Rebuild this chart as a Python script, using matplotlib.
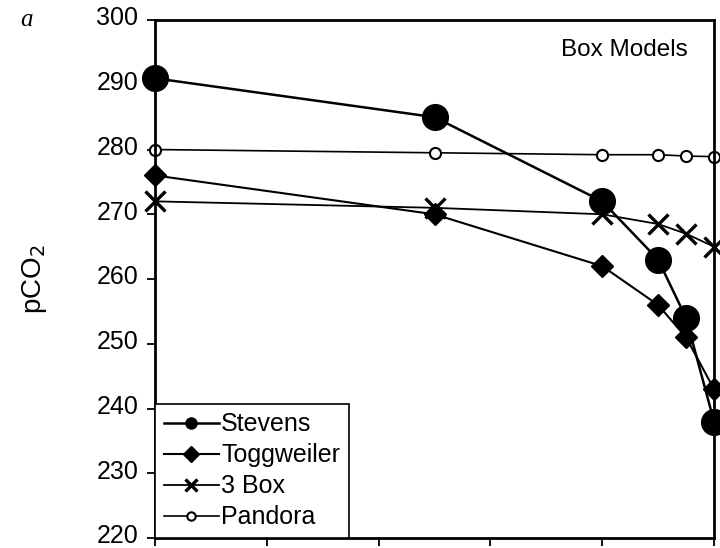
import matplotlib.pyplot as plt
from matplotlib.transforms import ScaledTranslation

plt.rcParams['font.family'] = ['Liberation Sans', 'DejaVu Sans']

# x positions (no labels on the x axis)
x = [0, 2.5, 4, 4.5, 4.75, 5]

stevens = [291, 285, 272, 263, 254, 238]
toggweiler = [276, 270, 262, 256, 251, 243]
three_box = [272, 271, 270, 268.5, 267, 265]
pandora = [280, 279.5, 279.2, 279.2, 279, 278.9]

yticks = [220, 230, 240, 250, 260, 270, 280, 290, 300]

fig = plt.figure(figsize=(7.2, 5.48), dpi=100)
ax = fig.add_axes([0.2153, 0.018, 0.7764, 0.9455])

ax.plot(x, stevens, color='black', lw=1.8, marker='o', ms=18.5, label='Stevens', clip_on=False, zorder=5)
ax.plot(x, toggweiler, color='black', lw=1.5, marker='D', ms=11, label='Toggweiler', clip_on=False, zorder=4)
ax.plot(x, three_box, color='black', lw=1.3, marker='x', ms=14, mew=2.4, label='3 Box', clip_on=False, zorder=3)
ax.plot(x, pandora, color='black', lw=1.2, marker='o', ms=8, mfc='white', mew=1.5, label='Pandora', clip_on=False, zorder=2)

ax.set_xlim(0, 5)
ax.set_ylim(220, 300)
ax.set_yticks(yticks)
ax.set_xticks([0, 1, 2, 3, 4, 5])
ax.set_xticklabels([])
ax.tick_params(axis='both', direction='out', length=6, width=1.3, labelsize=18, pad=6)
for s in ax.spines.values():
    s.set_linewidth(2)

# lift tick labels slightly above their ticks, like the original
shift = ScaledTranslation(0, 3 / 72, fig.dpi_scale_trans)
for lbl in ax.get_yticklabels():
    lbl.set_transform(lbl.get_transform() + shift)

ax.set_ylabel('pCO$_2$', fontsize=20, labelpad=34)

ax.text(0.84, 0.942, 'Box Models', transform=ax.transAxes, ha='center', va='center', fontsize=17.5)
fig.text(0.028, 0.963, 'a', fontsize=18, style='italic', family='Liberation Serif', va='center')

leg = ax.legend(loc='lower left', fontsize=18, frameon=True, fancybox=False, framealpha=1,
                edgecolor='black', borderaxespad=0, handlelength=2.2, handletextpad=0.1,
                labelspacing=0.28, borderpad=0.35)
leg.get_frame().set_linewidth(1.2)
sizes = [8, 8, 9, 6]
for h, s in zip(leg.legend_handles, sizes):
    h.set_markersize(s)

fig.savefig('out.png', dpi=100)
